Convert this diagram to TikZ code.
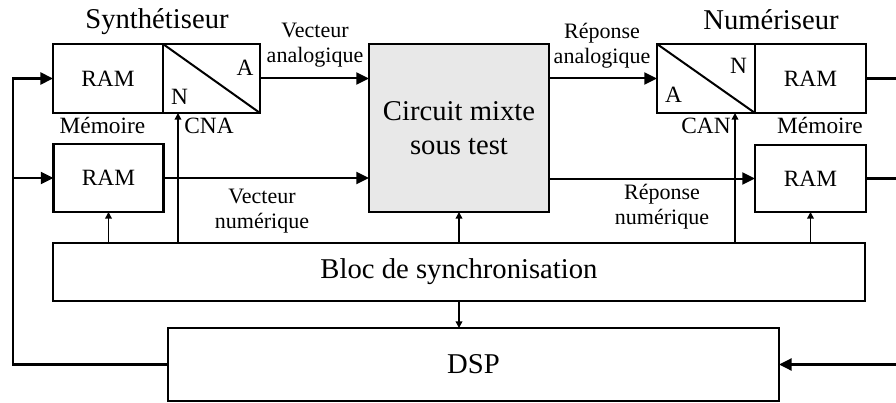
\documentclass[tikz,border=0pt]{standalone}
\usepackage{fontspec}
\setmainfont{Liberation Serif}
\usetikzlibrary{arrows.meta, positioning}

\definecolor{gris}{RGB}{232,232,232}
\newcommand{\grand}{\fontsize{21.5}{26}\selectfont}
\newcommand{\moyen}{\fontsize{17.5}{20}\selectfont}
\newcommand{\petit}{\fontsize{16.5}{19}\selectfont}

\begin{document}
\begin{tikzpicture}[x=0.75pt,y=-0.75pt,
		box/.style = {draw,line width=1.7pt,inner sep=0pt,outer sep=0pt,font=\moyen},
		fleche/.style = {line width=1.5pt,-{Triangle[length=9.5pt,width=9pt]}},
		petite/.style = {line width=1.1pt,-{Triangle[length=5pt,width=5pt]}},
		etiq/.style = {font=\petit,align=center,inner sep=0pt},
		lettre/.style = {font=\moyen,anchor=base,inner sep=0pt}]
	\useasboundingbox (0,0) rectangle (896,403);
	\clip (0,0) rectangle (896,403);

	% synthetiseur
	\node [box, minimum width=82.5pt, minimum height=51.75pt] (ramA) at (108,78.5) {RAM};
	\node [box, minimum width=72.75pt, minimum height=51.75pt, right=0pt of ramA] (cna) {};
	\draw [line width=1.5pt] (cna.north west) -- (cna.south east);
	\node [lettre] (cnaA) at (245,75) {A};
	\node [lettre] (cnaN) at (179.5,104) {N};
	\node [box, minimum width=82.5pt, minimum height=51pt] (ramB) at (108.5,178) {RAM};
	\node [lettre, font=\grand] (synth) at (157,29) {Synthétiseur};
	\node [lettre] (memA) at (102.5,133) {Mémoire};
	\node [lettre] (cnaLab) at (209,133) {CNA};

	% circuit
	\node [box, fill=gris, font=\grand, align=center, minimum width=135pt, minimum height=126pt] (circuit) at (459,128) {Circuit mixte\\sous test};

	% numeriseur
	\node [box, minimum width=73.5pt, minimum height=51.75pt] (can) at (706,78.5) {};
	\draw [line width=1.5pt] (can.north west) -- (can.south east);
	\node [lettre] (canN) at (738.5,74) {N};
	\node [lettre] (canA) at (673.5,103) {A};
	\node [box, minimum width=83.25pt, minimum height=51.75pt, right=0pt of can] (ramC) {RAM};
	\node [box, minimum width=83.25pt, minimum height=50.25pt] (ramD) at (810.5,178.5) {RAM};
	\node [lettre, font=\grand] (num) at (771,30) {Numériseur};
	\node [lettre] (memB) at (820,133) {Mémoire};
	\node [lettre] (canLab) at (706,133) {CAN};

	% synchronisation et DSP
	\node [box, font=\grand, minimum width=609pt, minimum height=43.5pt] (sync) at (459,272) {Bloc de synchronisation};
	\node [box, font=\grand, minimum width=458.25pt, minimum height=54.75pt] (dsp) at (473.5,364.5) {DSP};

	\node [etiq] (vecA) at (315,45) {Vecteur\\analogique};
	\node [etiq] (repA) at (602,46) {Réponse\\analogique};
	\node [etiq] (vecN) at (262,211) {Vecteur\\numérique};
	\node [etiq] (repN) at (662,207) {Réponse\\numérique};

	\draw [fleche] (cna.east) -- (circuit.west |- cna.east);
	\draw [fleche] (ramB.east) -- (circuit.west |- ramB.east);
	\draw [fleche] (circuit.east |- can.west) -- (can.west);
	\draw [fleche] (circuit.east |- ramD.west) -- (ramD.west);

	\coordinate (cnaIn) at ([xshift=11.25pt]cna.south west);
	\coordinate (canIn) at ([xshift=-15pt]can.south east);
	\draw [petite] (sync.north -| cnaIn) -- (cnaIn);
	\draw [petite] (sync.north -| canIn) -- (canIn);
	\draw [petite] (sync.north -| ramB) -- (ramB.south);
	\draw [petite] (sync.north -| circuit) -- (circuit.south);
	\draw [petite] (sync.north -| ramD) -- (ramD.south);
	\draw [petite] (sync.south -| circuit) -- (dsp.north -| circuit);

	% boucles
	\coordinate (boucleG) at (13,0);
	\coordinate (boucleD) at (905,0);
	\draw [fleche, line width=2pt] (dsp.west) -| (boucleG |- ramA.west) -- (ramA.west);
	\draw [fleche] (boucleG |- ramB.west) -- (ramB.west);
	\draw [fleche, line width=1.8pt] (ramC.east) -| (boucleD |- dsp.east) -- (dsp.east);
	\draw [line width=1.8pt] (ramD.east) -- (ramD.east -| boucleD);
\end{tikzpicture}
\end{document}
